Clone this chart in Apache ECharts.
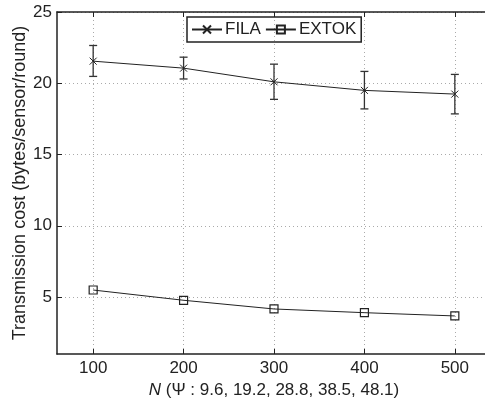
<!DOCTYPE html>
<html>
<head>
<meta charset="utf-8">
<script src="https://cdn.jsdelivr.net/npm/echarts@6/dist/echarts.min.js"></script>
<style>
  html, body { margin: 0; padding: 0; background: #fff; }
  #chart { width: 485px; height: 400px; }
</style>
</head>
<body>
<div id="chart"></div>
<script>
// 横轴 N
const nodes = [100, 200, 300, 400, 500];
const xTicks = [100, 200, 300, 400, 500];
const yTicks = [5, 10, 15, 20, 25];
// FILA 均值及误差范围
const filaMean = [21.55, 21.06, 20.1, 19.5, 19.24];
const filaHigh = [22.65, 21.83, 21.34, 20.83, 20.62];
const filaLow = [20.48, 20.3, 18.87, 18.2, 17.85];
// EXTOK
const extokMean = [5.49, 4.77, 4.16, 3.9, 3.67];

const ink = '#222';
const font = 'Liberation Sans, Arial, sans-serif';
const gridLine = { show: true, lineStyle: { color: '#aaa', type: [1, 3], width: 1 } };

const chart = echarts.init(document.getElementById('chart'));

let errData = nodes.map((n, i) => [n, filaLow[i], filaHigh[i]]);

chart.setOption({
  animation: false,
  textStyle: { fontFamily: font },
  grid: { left: 57, top: 12, right: -6, bottom: 46, outerBoundsMode: 'none', containLabel: false },
  legend: {
    left: 187, top: 17,
    padding: [4, 5, 4, 4],
    itemGap: 4,
    itemWidth: 30, itemHeight: 10,
    borderColor: ink, borderWidth: 1.5,
    textStyle: { fontSize: 17, color: ink, fontFamily: font, padding: [0, 0, 0, -2] },
    data: ['FILA', 'EXTOK']
  },
  xAxis: [{
    type: 'value', min: 60, max: 540,
    name: '{i|N} (Ψ : 9.6, 19.2, 28.8, 38.5, 48.1)',
    nameLocation: 'middle', nameGap: 28,
    nameTextStyle: {
      fontSize: 17, color: ink,
      rich: { i: { fontStyle: 'italic', fontSize: 17, color: ink } }
    },
    axisLine: { lineStyle: { color: ink, width: 1.5 } },
    axisTick: { inside: true, length: 5, customValues: xTicks, lineStyle: { color: ink } },
    axisLabel: { customValues: xTicks, fontSize: 17, color: ink, margin: 6 },
    splitLine: gridLine
  }, {
    type: 'value', min: 60, max: 540, position: 'top',
    axisLine: { show: true, lineStyle: { color: ink, width: 1.5 } },
    axisTick: { inside: true, length: 5, customValues: xTicks, lineStyle: { color: ink } },
    axisLabel: { show: false },
    splitLine: { show: false }
  }],
  yAxis: {
    type: 'value', min: 1, max: 25,
    name: 'Transmission cost (bytes/sensor/round)',
    nameLocation: 'middle', nameGap: 28, nameMoveOverlap: false,
    nameTextStyle: { fontSize: 18, color: ink },
    axisLine: { show: true, lineStyle: { color: ink, width: 1.5 } },
    axisTick: { show: true, inside: true, length: 5, customValues: yTicks, lineStyle: { color: ink } },
    axisLabel: { customValues: yTicks, fontSize: 17, color: ink, margin: 5 },
    splitLine: gridLine
  },
  series: [{
    name: 'FILA', type: 'line',
    data: nodes.map((n, i) => [n, filaMean[i]]),
    symbol: 'path://M0,0L10,10M10,0L0,10',
    symbolSize: 7,
    lineStyle: { color: ink, width: 1 },
    itemStyle: { color: ink, borderColor: ink, borderWidth: 1 },
    z: 3
  }, {
    name: 'EXTOK', type: 'line',
    data: nodes.map((n, i) => [n, extokMean[i]]),
    symbol: 'rect', symbolSize: 8,
    lineStyle: { color: ink, width: 1 },
    itemStyle: { color: 'rgba(0,0,0,0)', borderColor: ink, borderWidth: 1.2 },
    z: 3
  }, {
    name: 'FILA-err', type: 'custom',
    data: errData,
    z: 2,
    renderItem: function (params, api) {
      let x = api.value(0);
      let top = api.coord([x, api.value(2)]);
      let bot = api.coord([x, api.value(1)]);
      let w = 4;
      let st = { stroke: '#333', lineWidth: 1.3 };
      return {
        type: 'group',
        children: [
          { type: 'line', shape: { x1: top[0], y1: top[1], x2: bot[0], y2: bot[1] }, style: st },
          { type: 'line', shape: { x1: top[0] - w, y1: top[1], x2: top[0] + w, y2: top[1] }, style: st },
          { type: 'line', shape: { x1: bot[0] - w, y1: bot[1], x2: bot[0] + w, y2: bot[1] }, style: st }
        ]
      };
    }
  }]
});
</script>
</body>
</html>
